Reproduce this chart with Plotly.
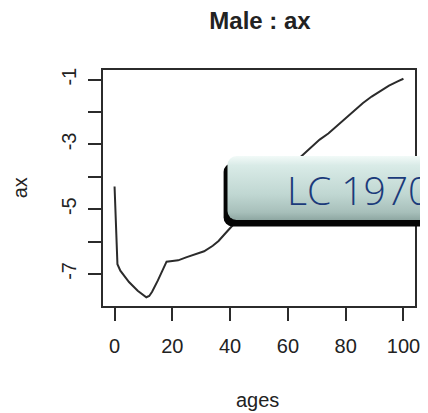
import base64
import plotly.graph_objects as go

# values (Lee-Carter ax, males)
ages = [0, 1, 2, 3, 5, 8, 11, 12, 13, 15, 17, 18, 20, 22, 25, 28, 31, 34, 36, 38,
        40, 45, 50, 55, 60, 65, 68, 71, 74, 77, 80, 83, 86, 89, 92, 95, 98, 100]
ax = [-4.30, -6.70, -6.90, -7.02, -7.25, -7.52, -7.72, -7.68, -7.55, -7.20, -6.82, -6.62,
      -6.60, -6.58, -6.48, -6.38, -6.30, -6.13, -5.98, -5.78,
      -5.58, -5.08, -4.60, -4.15, -3.75, -3.35, -3.10, -2.85, -2.66, -2.42, -2.20, -1.95,
      -1.72, -1.52, -1.35, -1.18, -1.05, -0.97]
x_ticks = [0, 20, 40, 60, 80, 100]
y_ticks = [-1, -2, -3, -4, -5, -6, -7]
y_labels = ["-1", "", "-3", "", "-5", "", "-7"]

# R style 4% padding
pad_y = (max(ax) - min(ax)) * 0.04
y_range = [min(ax) - pad_y, max(ax) + pad_y]

FONT = "Liberation Sans, Arial, sans-serif"
DARK = "#2b2b2b"
OFF = 8  # the page body adds 8px around the figure

fig = go.Figure()
fig.add_trace(go.Scatter(x=ages, y=ax, mode="lines",
                         line=dict(color=DARK, width=2), hoverinfo="skip"))

axis_common = dict(showgrid=False, zeroline=False, showline=True, mirror=True,
                   linecolor=DARK, linewidth=2, ticks="outside", ticklen=13,
                   tickwidth=2, tickcolor=DARK,
                   tickfont=dict(family=FONT, size=20, color="#222"))
fig.update_xaxes(range=[-4, 104], tickvals=x_ticks, ticklabelstandoff=8, **axis_common)
fig.update_yaxes(range=y_range, tickvals=y_ticks, ticktext=y_labels, tickangle=-90,
                 ticklabelstandoff=4, **axis_common)

# button overlay: gradient body with hard black shadow
svg = """<svg xmlns='http://www.w3.org/2000/svg' width='215' height='72' viewBox='0 0 215 72' preserveAspectRatio='none'>
<defs><linearGradient id='g' x1='0' y1='0' x2='0' y2='1'>
<stop offset='0' stop-color='#f2faf8'/><stop offset='0.15' stop-color='#d9ebe7'/>
<stop offset='0.6' stop-color='#c0d7d2'/><stop offset='0.88' stop-color='#a7bfba'/>
<stop offset='1' stop-color='#8ea7a2'/></linearGradient></defs>
<rect x='0.5' y='8' width='240' height='63.5' rx='9' fill='#050505'/>
<rect x='4.5' y='1' width='240' height='64' rx='9' fill='url(#g)'/>
</svg>"""
src = "data:image/svg+xml;base64," + base64.b64encode(svg.encode()).decode()

pw, ph = 317.0, 236.0  # plot area in px
fig.add_layout_image(source=src, xref="paper", yref="paper",
                     x=(225 - 103) / pw, y=(306 - 155) / ph,
                     sizex=215 / pw, sizey=72 / ph,
                     xanchor="left", yanchor="top", sizing="stretch", layer="above")

fig.add_annotation(text="LC 1970", xref="paper", yref="paper",
                   x=(288 - 103) / pw, y=(306 - 189) / ph, xanchor="left", yanchor="middle",
                   showarrow=False,
                   font=dict(family="Open Sans, Lato, sans-serif", size=39, color="#1b3a7a",
                             weight=300))

fig.add_annotation(text="ages", xref="paper", yref="paper", x=0.495, y=-(400 - 306) / ph,
                   xanchor="center", yanchor="middle", showarrow=False,
                   font=dict(family=FONT, size=20, color="#222"))
fig.add_annotation(text="ax", xref="paper", yref="paper", x=(19 - 103) / pw, y=0.5,
                   xanchor="center", yanchor="middle", textangle=-90, showarrow=False,
                   font=dict(family=FONT, size=20, color="#222"))

W, H = 428 - OFF, 413 - OFF
fig.update_layout(
    width=W, height=H,
    margin=dict(l=103 - OFF, r=W - (103 - OFF) - 317, t=70 - OFF, b=H - (70 - OFF) - 236),
    plot_bgcolor="white", paper_bgcolor="white",
    showlegend=False,
    title=dict(text="<b>Male : ax</b>", x=(260 - OFF) / W, xanchor="center",
               y=1 - (21 - OFF) / H, yanchor="middle",
               font=dict(family=FONT, size=24, color="#222")),
)

fig.write_html("out.html")
